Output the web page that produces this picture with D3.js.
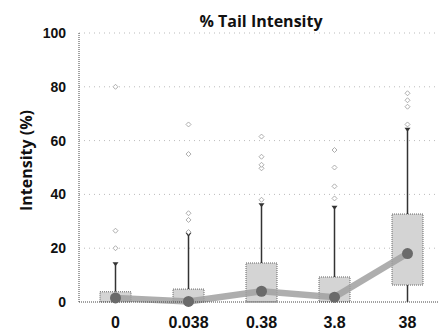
<!DOCTYPE html>
<html>
<head>
<meta charset="utf-8">
<script src="https://cdn.jsdelivr.net/npm/d3@7"></script>
<style>
	body { margin: 0; background: #fff; }
	svg { display: block; font-family: "Open Sans", sans-serif; }
</style>
</head>
<body>
<div id="chart"></div>
<script>
//////////////////////////// data /////////////////////////////////////////

const categories = ["0", "0.038", "0.38", "3.8", "38"];
const q1 = [0, 0, 0, 0, 6.3];
const q3 = [3.8, 4.8, 14.5, 9.3, 32.7];
const whiskerLow = [0, 0, 0, 0, 0];
const whiskerHigh = [14, 25, 36, 35, 64];
const means = [1.5, 0.2, 4, 1.8, 18];
const outliers = [
	[20, 26.5, 80],
	[26, 30.5, 33, 55, 66],
	[38, 49.7, 51, 54, 61.5],
	[38.5, 43, 50, 56.5],
	[66, 72.6, 75, 77.6]
];
const yTicks = [0, 20, 40, 60, 80, 100];

const data = categories.map((c, i) => ({
	cat: c,
	q1: q1[i],
	q3: q3[i],
	lo: whiskerLow[i],
	hi: whiskerHigh[i],
	mean: means[i],
	out: outliers[i]
}));

//////////////////////////// sizes ///////////////////////////////////////

const dimensions = {
	width: 439,
	height: 331,
	margin: { top: 33, right: -5, bottom: 29, left: 79 }
};
dimensions.boundedWidth =
	dimensions.width - dimensions.margin.left - dimensions.margin.right;
dimensions.boundedHeight =
	dimensions.height - dimensions.margin.top - dimensions.margin.bottom;

const wrapper = d3
	.select("#chart")
	.append("svg")
	.attr("width", dimensions.width)
	.attr("height", dimensions.height);

const bounds = wrapper
	.append("g")
	.attr("transform", `translate(${dimensions.margin.left},${dimensions.margin.top})`);

//////////////////////////// scales ///////////////////////////////////////

const xScale = d3
	.scaleBand()
	.domain(categories)
	.range([0, dimensions.boundedWidth]);

const yScale = d3
	.scaleLinear()
	.domain([0, 100])
	.range([dimensions.boundedHeight, 0]);

const xMid = (d) => xScale(d) + xScale.bandwidth() / 2;
const boxW = 31;

//////////////////////////// grid + axes //////////////////////////////////

bounds
	.selectAll(".grid")
	.data(yTicks.filter((t) => t > 0))
	.join("line")
	.attr("class", "grid")
	.attr("x1", 0)
	.attr("x2", dimensions.boundedWidth)
	.attr("y1", (d) => yScale(d))
	.attr("y2", (d) => yScale(d))
	.attr("stroke", "#bbb")
	.attr("stroke-width", 1)
	.attr("stroke-dasharray", "1,4");

const yAxis = bounds
	.append("g")
	.call(d3.axisLeft(yScale).tickValues(yTicks).tickSize(0).tickPadding(13));
yAxis.select(".domain").remove();
yAxis
	.selectAll("text")
	.attr("font-size", 14)
	.attr("font-weight", "bold")
	.attr("fill", "#111");

bounds
	.append("line")
	.attr("x1", 0)
	.attr("x2", 0)
	.attr("y1", 0)
	.attr("y2", dimensions.boundedHeight)
	.attr("stroke", "#444")
	.attr("stroke-dasharray", "1,1");

const xAxis = bounds
	.append("g")
	.attr("transform", `translate(0,${dimensions.boundedHeight})`)
	.call(d3.axisBottom(xScale).tickSize(0).tickPadding(15));
xAxis.select(".domain").remove();
xAxis
	.selectAll("text")
	.attr("font-size", 16)
	.attr("font-weight", "bold")
	.attr("fill", "#111");

//////////////////////////// boxes ////////////////////////////////////////

const box = bounds
	.selectAll(".box")
	.data(data)
	.join("g")
	.attr("class", "box");

// whiskers
box
	.append("line")
	.attr("x1", (d) => xMid(d.cat))
	.attr("x2", (d) => xMid(d.cat))
	.attr("y1", (d) => yScale(d.q3))
	.attr("y2", (d) => yScale(d.hi))
	.attr("stroke", "#333")
	.attr("stroke-width", 1.5);

box
	.filter((d) => d.q1 > d.lo)
	.append("line")
	.attr("x1", (d) => xMid(d.cat))
	.attr("x2", (d) => xMid(d.cat))
	.attr("y1", (d) => yScale(d.q1))
	.attr("y2", (d) => yScale(d.lo))
	.attr("stroke", "#333")
	.attr("stroke-width", 1.5);

// whisker caps
box
	.append("path")
	.attr("d", (d) => {
		const x = xMid(d.cat);
		const y = yScale(d.hi);
		return `M${x - 3},${y - 2}L${x + 3},${y - 2}L${x},${y + 2}Z`;
	})
	.attr("fill", "#333");

box
	.append("rect")
	.attr("x", (d) => xMid(d.cat) - boxW / 2)
	.attr("width", boxW)
	.attr("y", (d) => yScale(d.q3))
	.attr("height", (d) => yScale(d.q1) - yScale(d.q3))
	.attr("fill", "#d4d4d4")
	.attr("stroke", "#666")
	.attr("stroke-width", 1)
	.attr("stroke-dasharray", "1,1");

// outliers
box
	.selectAll(".out")
	.data((d) => d.out.map((v) => ({ cat: d.cat, v })))
	.join("path")
	.attr("class", "out")
	.attr("d", (d) => {
		const x = xMid(d.cat);
		const y = yScale(d.v);
		return `M${x},${y - 2.5}L${x + 2.5},${y}L${x},${y + 2.5}L${x - 2.5},${y}Z`;
	})
	.attr("fill", "#fff")
	.attr("stroke", "#999")
	.attr("stroke-width", 0.8);

//////////////////////////// mean line ////////////////////////////////////

const line = d3
	.line()
	.x((d) => xMid(d.cat))
	.y((d) => yScale(d.mean));

bounds
	.append("path")
	.datum(data)
	.attr("d", line)
	.attr("fill", "none")
	.attr("stroke", "#a0a0a0")
	.attr("stroke-width", 6.5)
	.attr("stroke-linecap", "round")
	.attr("opacity", 0.85);

bounds
	.append("line")
	.attr("x1", 0)
	.attr("x2", dimensions.boundedWidth)
	.attr("y1", dimensions.boundedHeight)
	.attr("y2", dimensions.boundedHeight)
	.attr("stroke", "#444")
	.attr("stroke-dasharray", "1,1");

bounds
	.selectAll(".mean")
	.data(data)
	.join("circle")
	.attr("class", "mean")
	.attr("cx", (d) => xMid(d.cat))
	.attr("cy", (d) => yScale(d.mean))
	.attr("r", 5.5)
	.attr("fill", "#6a6a6a");

//////////////////////////// labels ///////////////////////////////////////

wrapper
	.append("text")
	.attr("x", 261)
	.attr("y", 27)
	.attr("text-anchor", "middle")
	.attr("font-size", 16)
	.attr("font-weight", "bold")
	.attr("fill", "#111")
	.text("% Tail Intensity");

wrapper
	.append("text")
	.attr("transform", `translate(32,${dimensions.margin.top + dimensions.boundedHeight / 2 - 7}) rotate(-90)`)
	.attr("text-anchor", "middle")
	.attr("font-size", 16)
	.attr("font-weight", "bold")
	.attr("fill", "#111")
	.text("Intensity (%)");
</script>
</body>
</html>
